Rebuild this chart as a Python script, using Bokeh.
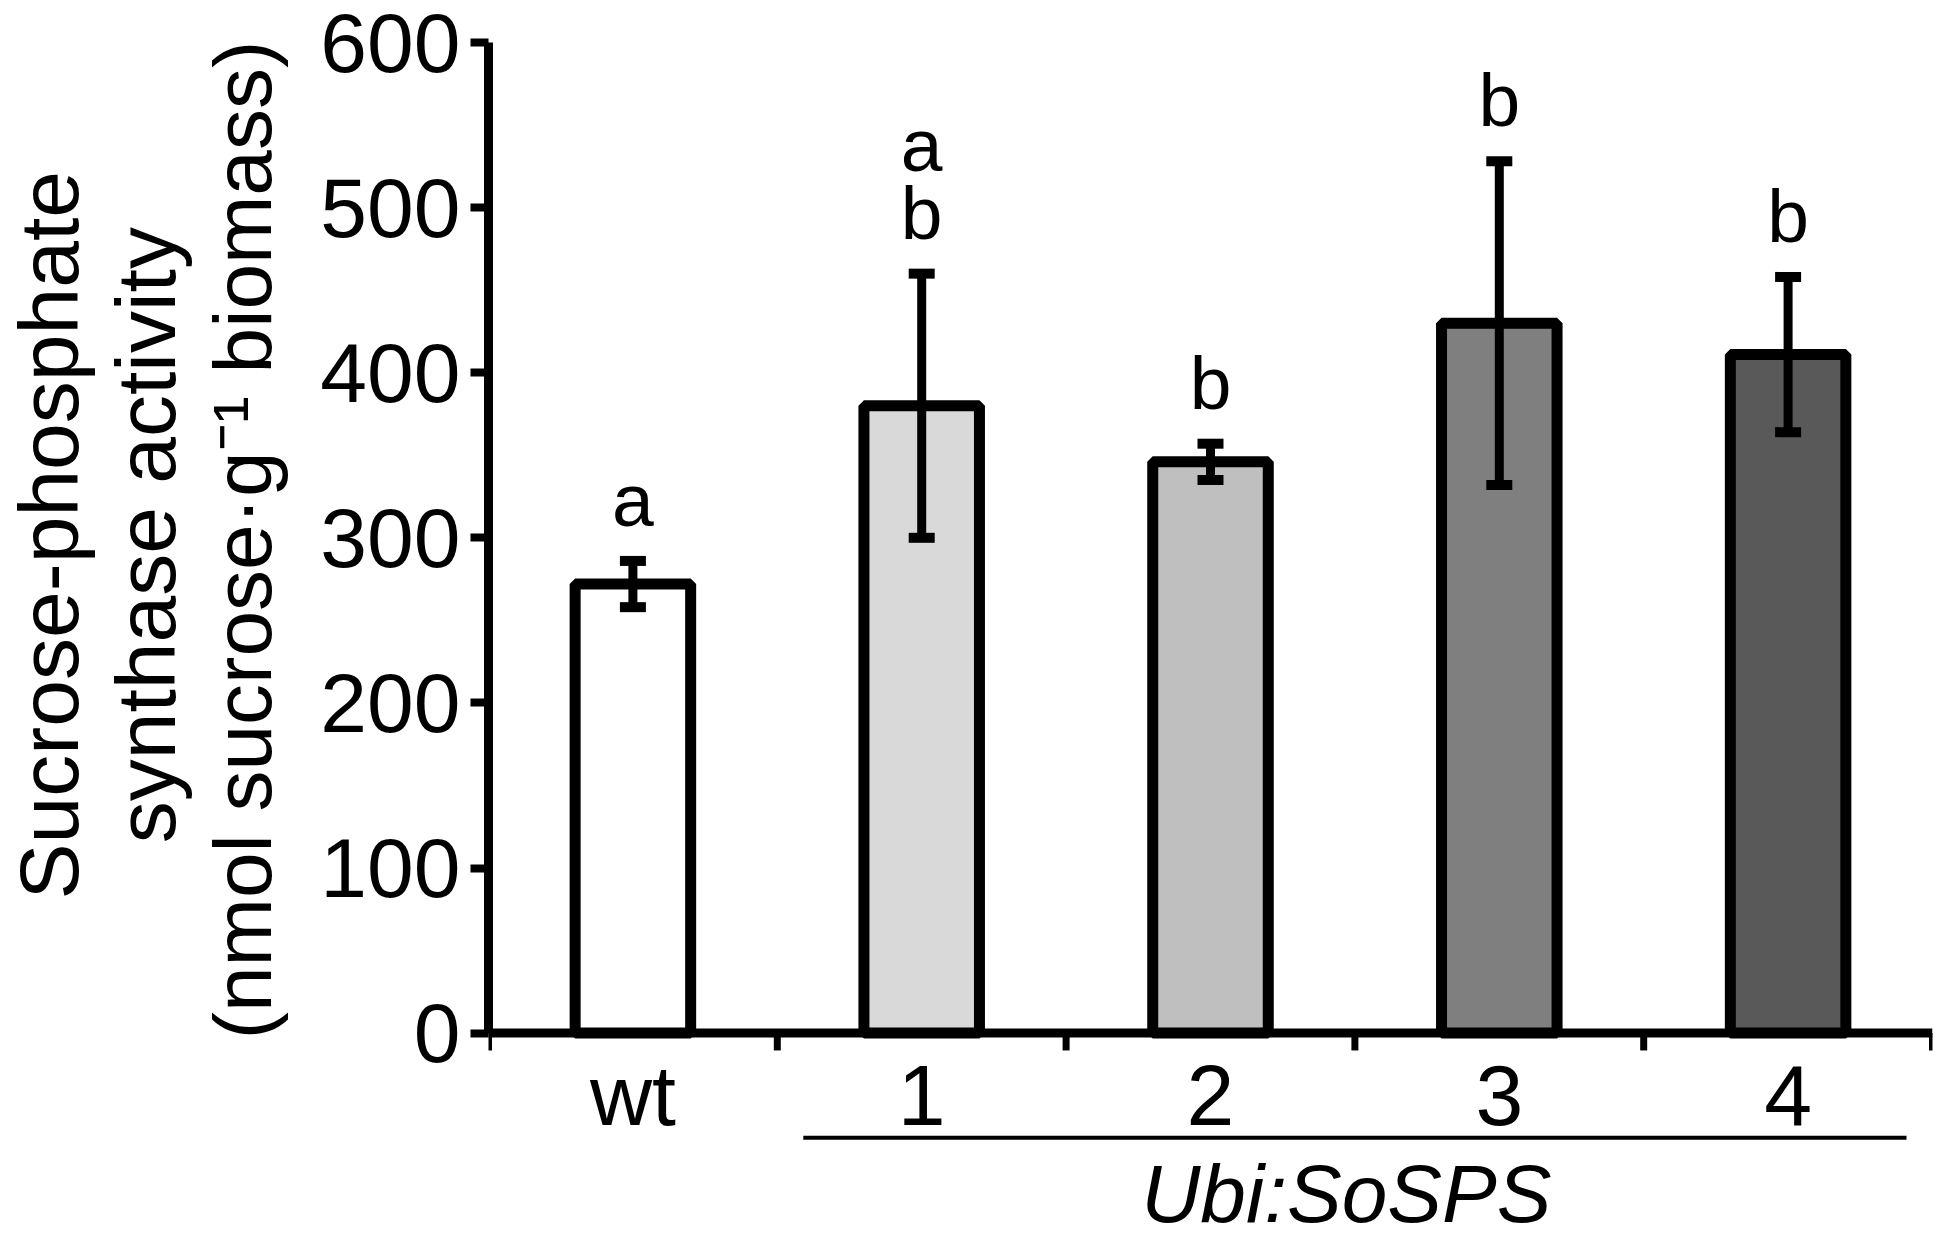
import math
from bokeh.plotting import figure
from bokeh.layouts import row
from bokeh.models import Range1d, FixedTicker, ColumnDataSource, Span
from bokeh.embed import file_html
from bokeh.resources import INLINE
from bokeh.core.properties import value

# ---- data ----
categories = ["wt", "1", "2", "3", "4"]
spa_mean = [272, 380, 346, 430, 411]
spa_err = [14, 80, 11, 98, 47]
sig_letters = ["a", "ab", "b", "b", "b"]
bar_colors = ["#ffffff", "#d9d9d9", "#bfbfbf", "#7f7f7f", "#595959"]
y_ticks = [0, 100, 200, 300, 400, 500, 600]
group_label = "Ubi:SoSPS"
y_label_lines = ["Sucrose-phosphate", "synthase activity",
                 "(nmol sucrose\u00b7g\u207b\u00b9 biomass)"]

FONT = "Liberation Sans"
n = len(categories)
xs = [i + 0.5 for i in range(n)]
Y_TOP = 600
Y_BOTTOM = -125   # room under the axis for category labels and the group bracket
W, H = 1938, 1239
LAB_W = 310       # width of the strip holding the y-axis title

# ---------------- main chart ----------------
p = figure(width=W - LAB_W, height=H, x_range=Range1d(0, n), y_range=Range1d(Y_BOTTOM, Y_TOP),
           output_backend="svg", toolbar_location=None,
           min_border_left=488 - LAB_W, min_border_top=42, min_border_right=6, min_border_bottom=0)
p.outline_line_color = None
p.xgrid.grid_line_color = None
p.ygrid.grid_line_color = None
p.background_fill_color = "white"
p.border_fill_color = "white"
p.xaxis.visible = False

# bars
src = ColumnDataSource(dict(x=xs, top=spa_mean, color=bar_colors))
p.vbar(x="x", top="top", width=0.40, bottom=0, source=src, fill_color="color",
       line_color="black", line_width=11)

# error bars
lo = [m - e for m, e in zip(spa_mean, spa_err)]
hi = [m + e for m, e in zip(spa_mean, spa_err)]
p.segment(x0=xs, y0=lo, x1=xs, y1=hi, line_color="black", line_width=9)
p.rect(x=xs + xs, y=lo + hi, width=26, height=10, width_units="screen", height_units="screen",
       fill_color="black", line_color=None)

# significance letters
lx, ly, lt = [], [], []
for x, h, s in zip(xs, hi, sig_letters):
    for j, ch in enumerate(s):
        k = len(s) - 1 - j
        lx.append(x)
        ly.append(h + 37 + 41 * k)
        lt.append(ch)
p.text(x=lx, y=ly, text=lt, text_align="center", text_baseline="alphabetic",
       text_font=value(FONT), text_font_size="75px", text_color="black")

# x axis line at 0, boundary ticks, category labels
p.add_layout(Span(location=0, dimension="width", line_color="black", line_width=9))
bx = list(range(n + 1))
p.segment(x0=bx, y0=[0] * len(bx), x1=bx, y1=[-10.5] * len(bx), line_color="black", line_width=7)
p.text(x=xs, y=[-37.5] * n, text=categories, text_align="center", text_baseline="alphabetic",
       text_font=value(FONT), text_font_size="86px", text_color="black")

# group bracket under lines 1-4 and its italic label
p.segment(x0=[1.09], y0=[-63.3], x1=[n - 0.09], y1=[-63.3], line_color="black", line_width=4)
p.text(x=[(1 + n) / 2 - 0.03], y=[-97], text=[group_label], text_align="center",
       text_baseline="alphabetic", text_font=value(FONT), text_font_style="italic",
       text_font_size="82px", text_color="black")

# y axis
ya = p.yaxis[0]
ya.bounds = (0, Y_TOP)
ya.ticker = FixedTicker(ticks=y_ticks, minor_ticks=[])
ya.major_tick_out = 18
ya.major_tick_in = 0
ya.major_tick_line_width = 8
ya.axis_line_width = 9
ya.major_label_text_font = FONT
ya.major_label_text_font_size = "84px"
ya.major_label_text_color = "black"
ya.major_label_standoff = 10

# ---------------- y-axis title strip ----------------
lab = figure(width=LAB_W, height=H, x_range=Range1d(0, LAB_W), y_range=Range1d(0, H),
             output_backend="svg", toolbar_location=None,
             min_border_left=0, min_border_right=0, min_border_top=0, min_border_bottom=0)
lab.title = None
lab.outline_line_color = None
lab.xgrid.grid_line_color = None
lab.ygrid.grid_line_color = None
lab.xaxis.visible = False
lab.yaxis.visible = False
lab.background_fill_color = "white"
lab.border_fill_color = "white"
lab.text(x=[48, 145], y=[H - 510] * 2, text=y_label_lines[:2], angle=math.pi / 2,
         text_align="center", text_baseline="alphabetic",
         text_font=value(FONT), text_font_size="84px", text_color="black")
lab.text(x=[242], y=[H - 515], text=y_label_lines[2:], angle=math.pi / 2,
         text_align="center", text_baseline="alphabetic",
         text_font=value(FONT), text_font_size="82px", text_color="black")

layout = row(lab, p)
open("out.html", "w").write(file_html(layout, INLINE))
